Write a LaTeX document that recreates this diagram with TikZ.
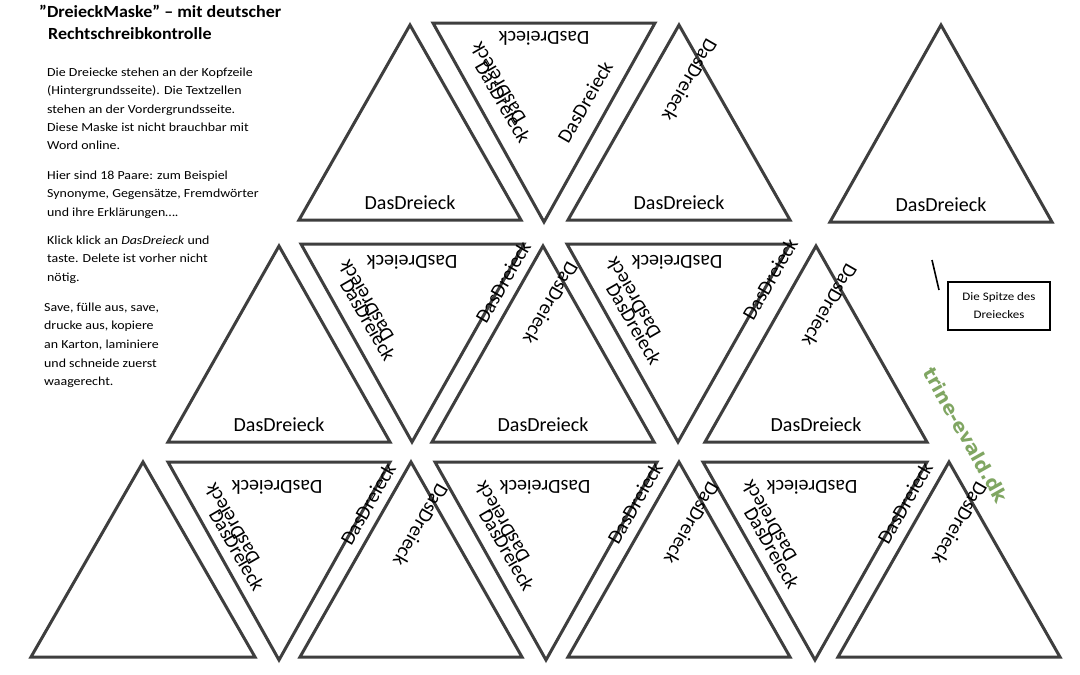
\documentclass[tikz,border=0pt]{standalone}
\usepackage{fontspec}
\setmainfont{Carlito}
\newfontfamily\bodyfont[FakeStretch=1.13]{Carlito}
\newfontfamily\titlefont[FakeStretch=1.06]{Carlito}
\newfontfamily\wmfont{DejaVu Sans}
\definecolor{trigray}{RGB}{62,62,62}
\definecolor{wmgreen}{RGB}{128,166,98}
\begin{document}
\begin{tikzpicture}[x=1pt,y=-1pt,
  tri/.style={draw=trigray, line width=3pt, line join=miter},
  lab/.style={font=\fontsize{20}{24}\selectfont, inner sep=0pt},
  body/.style={font=\bodyfont\fontsize{12.3}{14}\selectfont, inner sep=0pt, anchor=base west},
  ttl/.style={font=\titlefont\fontsize{17}{20}\selectfont\bfseries, inner sep=0pt, anchor=base west}]
\useasboundingbox[fill=white] (0,0) rectangle (1080,675);

% ---------- left text ----------
\node[ttl] (t1) at (39,17) {”DreieckMaske” – mit deutscher};
\node[ttl] (t2) at (48,39) {Rechtschreibkontrolle};
\node[body] (b1) at (47,76) {Die Dreiecke stehen an der Kopfzeile};
\node[body] (b2) at (47,94) {(Hintergrundsseite). Die Textzellen};
\node[body] (b3) at (47,113) {stehen an der Vordergrundsseite.};
\node[body] (b4) at (47,131) {Diese Maske ist nicht brauchbar mit};
\node[body] (b5) at (47,149) {Word online.};
\node[body] (b6) at (47,179) {Hier sind 18 Paare: zum Beispiel};
\node[body] (b7) at (47,197) {Synonyme, Gegensätze, Fremdwörter};
\node[body] (b8) at (47,216) {und ihre Erklärungen….};
\node[body] (b9) at (47,244) {Klick klick an \textit{DasDreieck} und};
\node[body] (b10) at (47,262) {taste. Delete ist vorher nicht};
\node[body] (b11) at (47,281) {nötig.};
\node[body] (b12) at (44,311) {Save, fülle aus, save,};
\node[body] (b13) at (44,329) {drucke aus, kopiere};
\node[body] (b14) at (44,348) {an Karton, laminiere};
\node[body] (b15) at (44,367) {und schneide zuerst};
\node[body] (b16) at (44,385) {waagerecht.};

% ---------- triangles row 1 ----------
\draw[tri] (410,25) -- (521,220) -- (299,220) -- cycle;
\draw[tri] (433,23) -- (655,23) -- (544,222) -- cycle;
\draw[tri] (679,25) -- (790,220) -- (568,220) -- cycle;
\draw[tri] (941,25) -- (1052,222) -- (830,222) -- cycle;
% ---------- row 2 ----------
\draw[tri] (279,246) -- (390,442) -- (168,442) -- cycle;
\draw[tri] (301,244) -- (524,244) -- (412,442) -- cycle;
\draw[tri] (543,246) -- (654,442) -- (432,442) -- cycle;
\draw[tri] (567,244) -- (790,244) -- (678,442) -- cycle;
\draw[tri] (816,246) -- (927,442) -- (705,442) -- cycle;
% ---------- row 3 ----------
\draw[tri] (143,462) -- (255,657) -- (31,657) -- cycle;
\draw[tri] (168,462) -- (390,462) -- (279,660) -- cycle;
\draw[tri] (411,462) -- (522,657) -- (300,657) -- cycle;
\draw[tri] (435,462) -- (657,462) -- (546,660) -- cycle;
\draw[tri] (679,462) -- (790,657) -- (568,657) -- cycle;
\draw[tri] (703,462) -- (927,462) -- (815,660) -- cycle;
\draw[tri] (949,462) -- (1060,657) -- (838,657) -- cycle;

% ---------- base texts of upward triangles ----------
\node[lab] (u1) at (410,203) {DasDreieck};
\node[lab] (u3) at (679,203) {DasDreieck};
\node[lab] (u4) at (941,205) {DasDreieck};
\node[lab] (u5) at (279,425) {DasDreieck};
\node[lab] (u7) at (543,425) {DasDreieck};
\node[lab] (u9) at (816,425) {DasDreieck};

% ---------- tilted texts of upward triangles ----------
\node[lab,rotate=-120] (r3) at (690,80) {DasDreieck};
\node[lab,rotate=-120] (r7) at (551,303) {DasDreieck};
\node[lab,rotate=-120] (r9) at (830,305) {DasDreieck};
\node[lab,rotate=-120] (r12) at (421,525) {DasDreieck};
\node[lab,rotate=-120] (r14) at (692,523) {DasDreieck};
\node[lab,rotate=-120] (r16) at (960,523) {DasDreieck};

% ---------- texts of downward triangles ----------
% T2
\node[lab,rotate=180] (d2t) at (544,38) {DasDreieck};
\node[lab,rotate=-60] (d2a) at (503,102) {DasDreieck};
\node[lab,rotate=120] (d2b) at (498,83) {DasDreieck};
\node[lab,rotate=60] (d2r) at (585,102) {DasDreieck};
% T6
\node[lab,rotate=180] (d6t) at (412,262) {DasDreieck};
\node[lab,rotate=-60] (d6a) at (368,320) {DasDreieck};
\node[lab,rotate=120] (d6b) at (366,301) {DasDreieck};
\node[lab,rotate=60] (d6r) at (503,282) {DasDreieck};
% T8
\node[lab,rotate=180] (d8t) at (677,262) {DasDreieck};
\node[lab,rotate=-60] (d8a) at (634,324) {DasDreieck};
\node[lab,rotate=120] (d8b) at (633,298) {DasDreieck};
\node[lab,rotate=60] (d8r) at (770,279) {DasDreieck};
% T11
\node[lab,rotate=180] (d11t) at (277,487) {DasDreieck};
\node[lab,rotate=-60] (d11a) at (237,550) {DasDreieck};
\node[lab,rotate=120] (d11b) at (232,524) {DasDreieck};
\node[lab,rotate=60] (d11r) at (368,504) {DasDreieck};
% T13
\node[lab,rotate=180] (d13t) at (545,487) {DasDreieck};
\node[lab,rotate=-60] (d13a) at (507,550) {DasDreieck};
\node[lab,rotate=120] (d13b) at (502,522) {DasDreieck};
\node[lab,rotate=60] (d13r) at (635,503) {DasDreieck};
% T15
\node[lab,rotate=180] (d15t) at (812,487) {DasDreieck};
\node[lab,rotate=-60] (d15a) at (772,548) {DasDreieck};
\node[lab,rotate=120] (d15b) at (769,521) {DasDreieck};
\node[lab,rotate=60] (d15r) at (905,503) {DasDreieck};

% ---------- note box ----------
\coordinate (m1) at (932,260);
\coordinate (m2) at (939,290);
\draw[black, line width=1.6pt] (m1) -- (m2);
\node[draw=black, line width=1.4pt, minimum width=102pt, minimum height=48pt,
      align=center, inner sep=2pt, font=\bodyfont\fontsize{11.5}{18}\selectfont]
      (box) at (999,306) {Die Spitze des\\Dreieckes};

% ---------- watermark ----------
\node[inner sep=0pt, rotate=-60.5, text=wmgreen, font=\wmfont\bfseries\fontsize{19}{21}\selectfont]
      (wm) at (966,435) {trine-evald.dk};
\end{tikzpicture}
\end{document}
